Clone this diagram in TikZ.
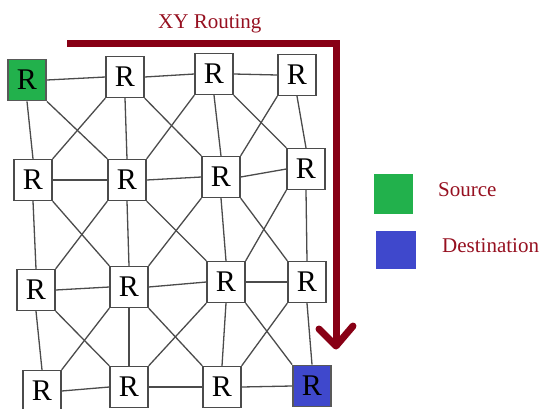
\documentclass[tikz,border=0pt]{standalone}
\usepackage{fontspec}
\setmainfont{Liberation Serif}
\usetikzlibrary{backgrounds}
\definecolor{routered}{RGB}{136,0,21}
\definecolor{labelred}{RGB}{150,16,32}
\definecolor{srcgreen}{RGB}{34,177,76}
\definecolor{dstblue}{RGB}{63,72,204}
\definecolor{edgegray}{RGB}{75,75,75}
\begin{document}
\begin{tikzpicture}[x=1pt,y=-1pt,
  router/.style={draw=edgegray, line width=1.3pt, fill=white, minimum width=38pt, minimum height=41pt, inner sep=0pt, font=\fontsize{30}{30}\selectfont},
  link/.style={draw=edgegray, line width=1.3pt},
  routing/.style={draw=routered, line width=7pt},
  lbl/.style={text=labelred, font=\fontsize{21}{21}\selectfont, inner sep=0pt, anchor=base west}
]
\useasboundingbox (0,0) rectangle (547,408);
\clip (0,0) rectangle (547,408);
% routers
\node[router, fill=srcgreen, line width=1.8pt, draw=gray!70!black] (r11) at (27,80) {R};
\node[router] (r12) at (125,77) {R};
\node[router] (r13) at (214,74) {R};
\node[router] (r14) at (297,75) {R};
\node[router] (r21) at (33,180) {R};
\node[router] (r22) at (127,180) {R};
\node[router] (r23) at (221,177) {R};
\node[router] (r24) at (306,169) {R};
\node[router] (r31) at (36,290) {R};
\node[router] (r32) at (129,287) {R};
\node[router] (r33) at (226,282) {R};
\node[router] (r34) at (307,282) {R};
\node[router] (r41) at (42,391) {R};
\node[router] (r42) at (129,387) {R};
\node[router] (r43) at (222,387) {R};
\node[router, fill=dstblue, line width=1.8pt, draw=gray!70!black] (r44) at (312,386) {R};
% links (behind the boxes)
\begin{pgfonlayer}{background}
\foreach \i in {1,...,4}{
  \foreach \j [evaluate=\j as \k using int(\j+1)] in {1,2,3}{
    \draw[link] (r\i\j.east) -- (r\i\k.west);
  }
}
\foreach \i [evaluate=\i as \n using int(\i+1)] in {1,2,3}{
  \foreach \j in {1,...,4}{
    \draw[link] (r\i\j.south) -- (r\n\j.north);
  }
  \foreach \j [evaluate=\j as \k using int(\j+1)] in {1,2,3}{
    \draw[link] (r\i\j.south east) -- (r\n\k.north west);
    \draw[link] (r\i\k.south west) -- (r\n\j.north east);
  }
}
\end{pgfonlayer}
% routing arrow
\coordinate (rs) at (67,43);
\coordinate (rc) at (336,43);
\coordinate (re) at (336,346);
\coordinate (al) at (319,329);
\coordinate (ar) at (353,326);
\draw[routing, line join=miter] (rs) -- (rc) -- (re);
\draw[routing, line cap=round, line join=round] (al) -- (re) -- (ar);
\node[lbl] (title) at (158,28) {XY Routing};
% legend
\node[fill=srcgreen, minimum width=39pt, minimum height=40pt, inner sep=0pt] (lgsrc) at (393.5,194) {};
\node[fill=dstblue, minimum width=40pt, minimum height=38pt, inner sep=0pt] (lgdst) at (396,250) {};
\node[lbl] (srctxt) at (438,196) {Source};
\node[lbl] (dsttxt) at (442,252) {Destination};
\end{tikzpicture}
\end{document}
